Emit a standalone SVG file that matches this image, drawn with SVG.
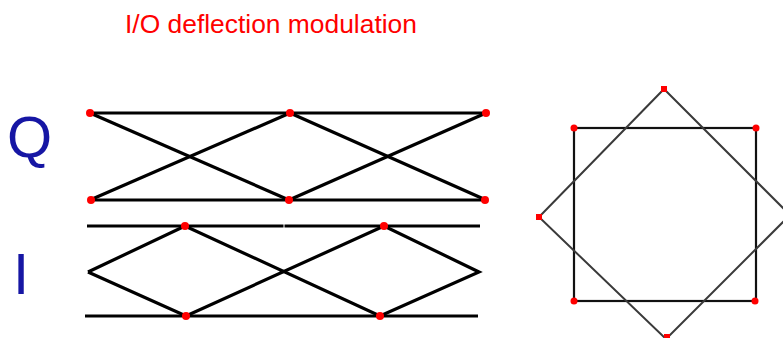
<svg xmlns="http://www.w3.org/2000/svg" width="783" height="338" viewBox="0 0 783 338">
<style>
.eye{stroke:#000;stroke-width:3.2;fill:none;stroke-linecap:butt}
.sq{stroke:#111;stroke-width:2.2;fill:none}
.dm{stroke:#3a3a3a;stroke-width:2;fill:none}
.dot{fill:#ff0000}
.lbl{font-family:"Liberation Sans",Arial,sans-serif;fill:#1616a4}
.title{font-family:"Liberation Sans",Arial,sans-serif;fill:#ff0000;font-size:26.4px}
</style>
<rect width="783" height="338" fill="#fff"/>
<text class="title" x="125" y="33">I/O deflection modulation</text>
<g id="label-Q"><text class="lbl" x="7" y="157" font-size="58">Q</text></g>
<g id="label-I"><text class="lbl" x="13" y="294" font-size="58">I</text></g>
<g id="connectors">
  <g id="q-eye">
    <line class="eye" x1="90" y1="113" x2="486" y2="113"/>
    <line class="eye" x1="90" y1="200" x2="486" y2="200"/>
    <line class="eye" x1="90" y1="113" x2="289" y2="200"/>
    <line class="eye" x1="90" y1="200" x2="290" y2="113"/>
    <line class="eye" x1="290" y1="113" x2="486" y2="200"/>
    <line class="eye" x1="289" y1="200" x2="486" y2="113"/>
  </g>
  <g id="i-eye">
    <line class="eye" x1="87" y1="226" x2="283.5" y2="226"/>
    <line class="eye" x1="284.5" y1="226" x2="480" y2="226"/>
    <line class="eye" x1="85" y1="316" x2="478" y2="316"/>
    <polyline class="eye" points="88,272 185,226 380,316 479,272 384,226 186,316 88,272"/>
  </g>
  <g id="constellation">
    <rect class="sq" x="574" y="128" width="182" height="173"/>
    <polygon class="dm" points="664,89 790,215 666,339 539,217"/>
  </g>
</g>
<g id="dots">
  <circle class="dot" cx="90" cy="113" r="4"/>
  <circle class="dot" cx="290" cy="113" r="4"/>
  <circle class="dot" cx="486" cy="113" r="4"/>
  <circle class="dot" cx="91" cy="200" r="4"/>
  <circle class="dot" cx="289" cy="200" r="4"/>
  <circle class="dot" cx="485" cy="200" r="4"/>
  <circle class="dot" cx="185" cy="226" r="4"/>
  <circle class="dot" cx="384" cy="226" r="4"/>
  <circle class="dot" cx="186" cy="316" r="4"/>
  <circle class="dot" cx="380" cy="316" r="4"/>
  <circle class="dot" cx="574" cy="128" r="3.5"/>
  <circle class="dot" cx="756" cy="128" r="3.5"/>
  <circle class="dot" cx="574" cy="301" r="3.5"/>
  <circle class="dot" cx="755" cy="301" r="3.5"/>
  <rect class="dot" x="661" y="86" width="6" height="6"/>
  <rect class="dot" x="536" y="214" width="6" height="6"/>
  <rect class="dot" x="664" y="334" width="6" height="6"/>
</g>
</svg>
